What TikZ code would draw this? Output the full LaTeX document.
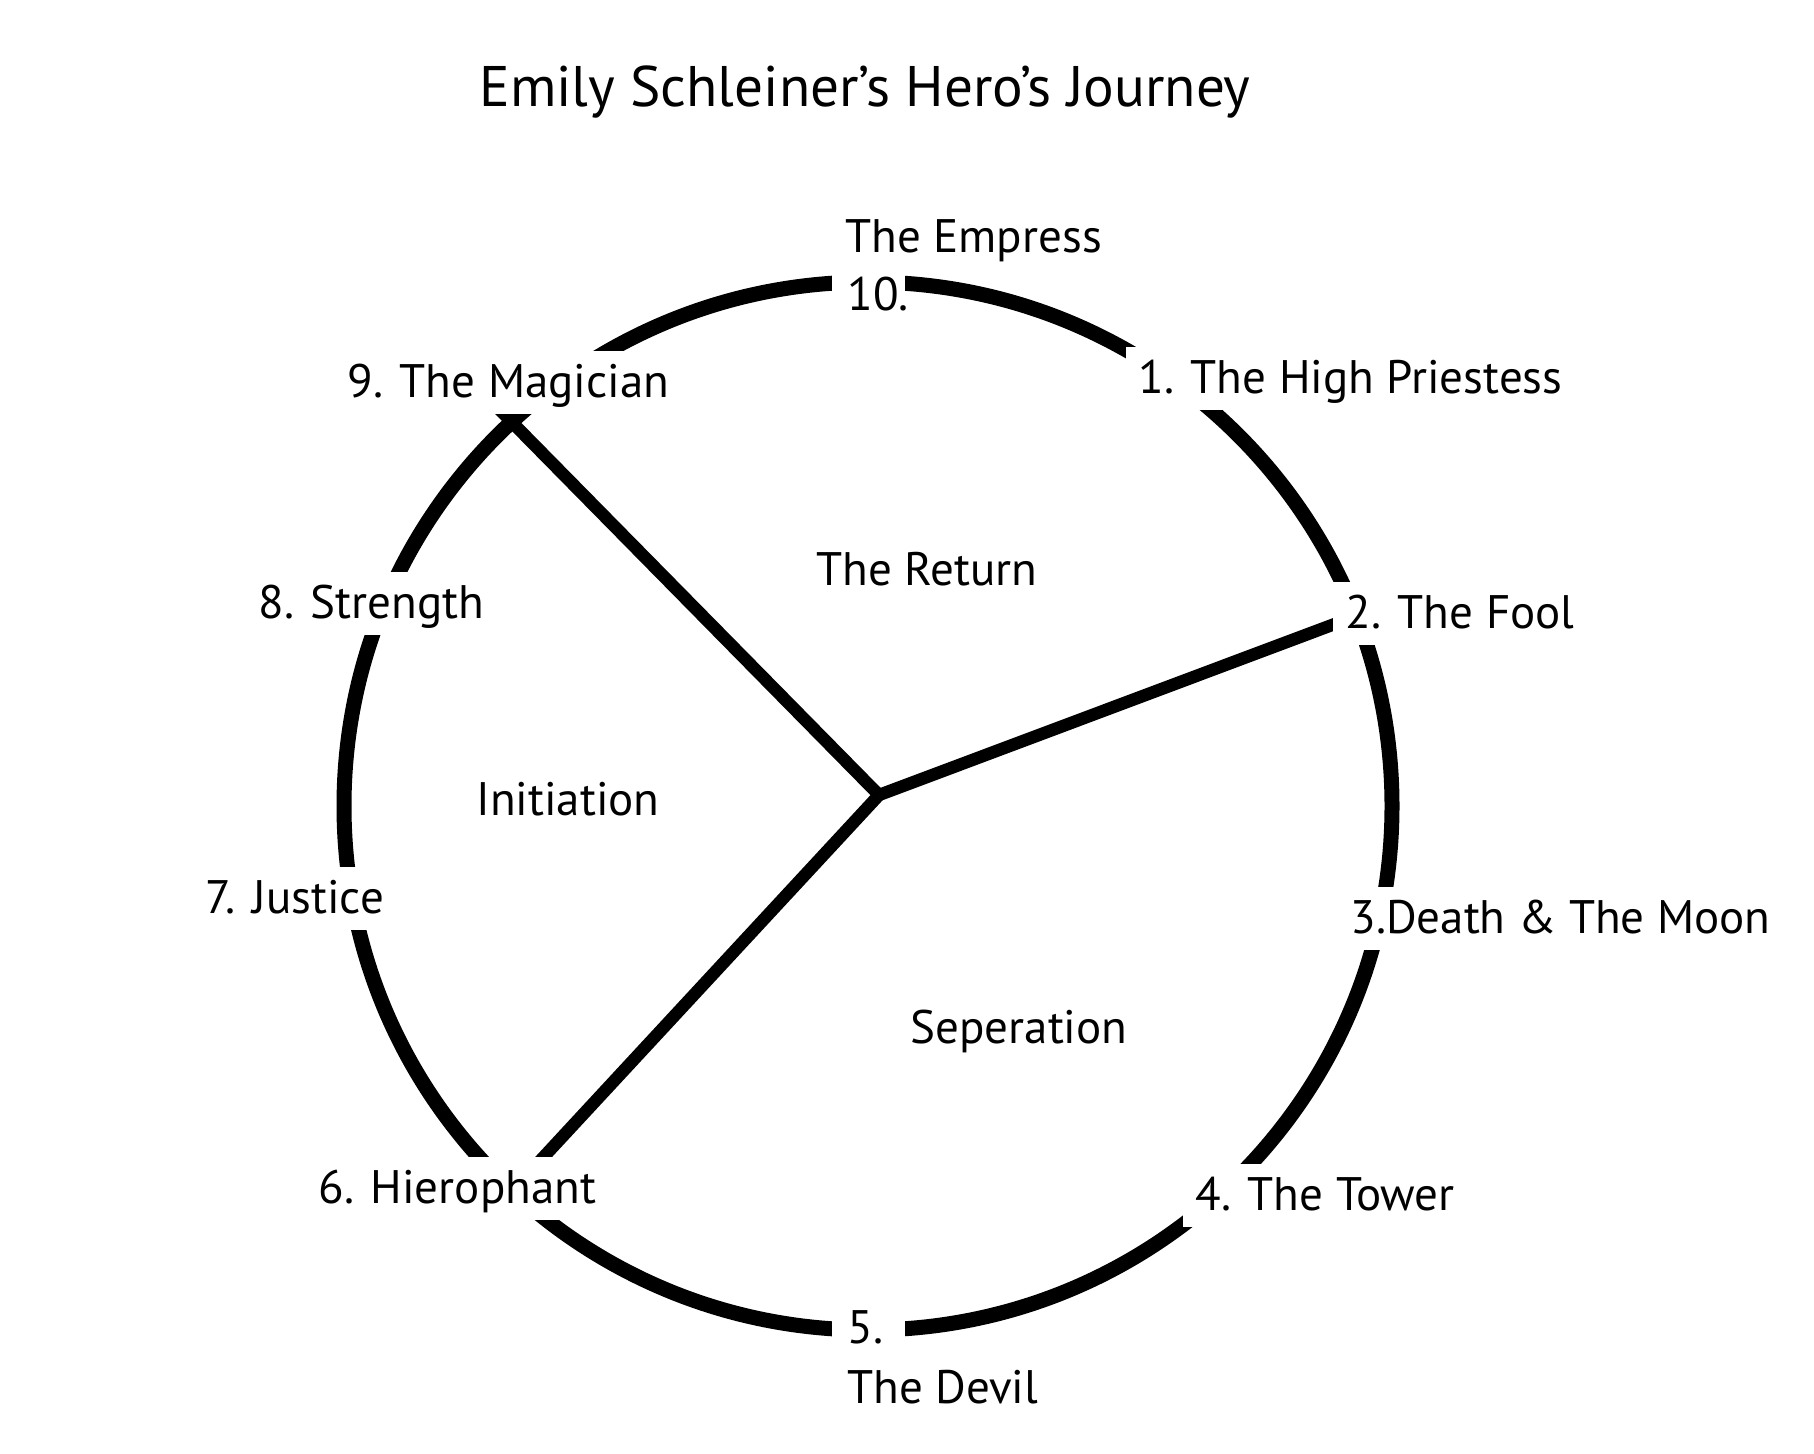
\documentclass[tikz,border=0pt]{standalone}
\usepackage{fontspec}
\setmainfont{PT Sans}
\usetikzlibrary{positioning}

\tikzset{
  stage/.style={fill=white,anchor=base west,inner xsep=6pt,inner ysep=0pt,
    text height=23pt,text depth=8.5pt,font=\fontsize{23.5}{28}\selectfont},
  gapbox/.style={stage,inner xsep=7.5pt,text width=21.5pt,align=left},
  plain/.style={anchor=base west,inner sep=0pt,font=\fontsize{23.5}{28}\selectfont},
  phase/.style={anchor=base,inner sep=0pt,font=\fontsize{23.5}{28}\selectfont},
  wheel/.style={line width=7.5pt},
  spoke/.style={line width=6.2pt},
}

\begin{document}
\begin{tikzpicture}[x=0.5pt,y=-0.5pt]
\useasboundingbox (0,0) rectangle (1814,1453);
\node[anchor=base,inner sep=0pt,font=\fontsize{28.6}{34}\selectfont] (title) at (865,106) {Emily Schleiner’s Hero’s Journey};

% the wheel and its three parts
\draw[wheel] (868,806) circle[radius=262pt];
\coordinate (hub) at (879,795);
\coordinate (foolend) at (1356,616);
\coordinate (magend) at (494,404);
\coordinate (hieend) at (513,1190);
\draw[spoke] (hub) -- (foolend);
\draw[spoke] (hub) -- (magend);
\draw[spoke] (hub) -- (hieend);

% stations round the wheel
\node[plain] (empress) at (845,252) {The Empress};
\node[gapbox] (s10) at (832,310) {10.};
\node[stage] (s1) at (1126,393) {1. The High Priestess};
\node[stage] (s2) at (1333,628) {2. The Fool};
\node[stage] (s3) at (1338,933) {3.Death \& The Moon};
\node[stage] (s4) at (1183,1210) {4. The Tower};
\node[gapbox] (s5) at (832,1343) {5.};
\node[plain] (devil) at (847,1403) {The Devil};
\node[stage] (s6) at (306,1203) {6. Hierophant};
\node[stage] (s7) at (193,913) {7. Justice};
\node[stage] (s8) at (246,618) {8. Strength};
\node[stage] (s9) at (335,397) {9. The Magician};

% the parts
\node[phase] (ret) at (927,585) {The Return};
\node[phase] (ini) at (568,815) {Initiation};
\node[phase] (sep) at (1019,1043) {Seperation};
\end{tikzpicture}
\end{document}
